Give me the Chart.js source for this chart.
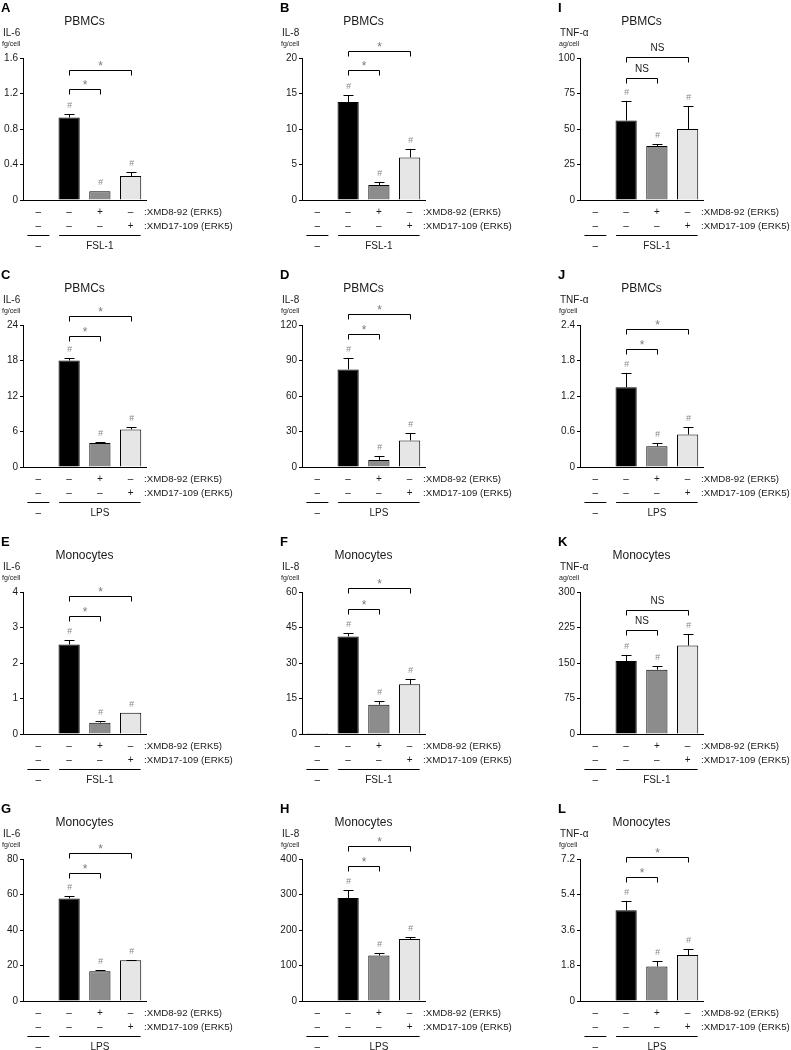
<!DOCTYPE html>
<html>
<head>
<meta charset="utf-8">
<script src="https://cdn.jsdelivr.net/npm/chart.js@4.4.1/dist/chart.umd.min.js"></script>
<style>
  html, body { margin: 0; padding: 0; background: #fff; overflow: hidden; }
  #figure { position: relative; width: 791px; height: 1050px; overflow: hidden; }
  #figure canvas { position: absolute; }
</style>
</head>
<body>
<div id="figure"></div>
<script>
// x categories (one bar each) and the treatment rows under the axis
var categories = ['Control', 'Stimulus', 'Stimulus + XMD8-92', 'Stimulus + XMD17-109'];
var xmd892Signs = ['–', '–', '+', '–'];
var xmd17109Signs = ['–', '–', '–', '+'];
var xmd892Label = ':XMD8-92 (ERK5)';
var xmd17109Label = ':XMD17-109 (ERK5)';

// panels, row by row
var panelLetters = ['A', 'B', 'I', 'C', 'D', 'J', 'E', 'F', 'K', 'G', 'H', 'L'];
var panelCells = ['PBMCs', 'PBMCs', 'PBMCs', 'PBMCs', 'PBMCs', 'PBMCs',
    'Monocytes', 'Monocytes', 'Monocytes', 'Monocytes', 'Monocytes', 'Monocytes'];
var panelCytokines = ['IL-6', 'IL-8', 'TNF-α', 'IL-6', 'IL-8', 'TNF-α',
    'IL-6', 'IL-8', 'TNF-α', 'IL-6', 'IL-8', 'TNF-α'];
var panelUnits = ['fg/cell', 'fg/cell', 'ag/cell', 'fg/cell', 'fg/cell', 'fg/cell',
    'fg/cell', 'fg/cell', 'ag/cell', 'fg/cell', 'fg/cell', 'fg/cell'];
var panelStimuli = ['FSL-1', 'FSL-1', 'FSL-1', 'LPS', 'LPS', 'LPS',
    'FSL-1', 'FSL-1', 'FSL-1', 'LPS', 'LPS', 'LPS'];

var yTickLabels = [
    ['0', '0.4', '0.8', '1.2', '1.6'],
    ['0', '5', '10', '15', '20'],
    ['0', '25', '50', '75', '100'],
    ['0', '6', '12', '18', '24'],
    ['0', '30', '60', '90', '120'],
    ['0', '0.6', '1.2', '1.8', '2.4'],
    ['0', '1', '2', '3', '4'],
    ['0', '15', '30', '45', '60'],
    ['0', '75', '150', '225', '300'],
    ['0', '20', '40', '60', '80'],
    ['0', '100', '200', '300', '400'],
    ['0', '1.8', '3.6', '5.4', '7.2']
];

var barMeans = [
    [0, 0.93, 0.10, 0.27],
    [0, 13.8, 2.1, 6.0],
    [0, 56, 38, 50],
    [0, 18.0, 4.05, 6.35],
    [0, 82.5, 6, 22.5],
    [0, 1.35, 0.35, 0.55],
    [0, 2.52, 0.32, 0.6],
    [0.4, 41.2, 12.4, 21.0],
    [0, 154, 136, 187],
    [0, 57.8, 16.8, 22.9],
    [0, 290, 128, 175],
    [0, 4.6, 1.75, 2.33]
];

var barErrors = [
    [0, 0.04, 0, 0.05],
    [0, 1.0, 0.5, 1.2],
    [0, 14, 1.5, 16],
    [0, 0.35, 0.2, 0.4],
    [0, 9.5, 3.5, 6.5],
    [0, 0.24, 0.05, 0.13],
    [0, 0.13, 0.05, 0],
    [0, 1.6, 1.5, 2.4],
    [0, 12, 8, 25],
    [0, 1.5, 0.5, 0.4],
    [0, 24, 8, 6],
    [0, 0.47, 0.27, 0.31]
];

// [stim vs XMD8-92, stim vs XMD17-109] bracket heights, in axis units
var bracketLevels = [
    [1.25, 1.46], [18.3, 21.0], [86, 101],
    [22.2, 25.6], [112, 129], [2.0, 2.33],
    [3.31, 3.88], [53, 61.5], [220, 261],
    [72, 83.6], [380, 437], [6.31, 7.32]
];
var bracketMarks = [
    ['*', '*'], ['*', '*'], ['NS', 'NS'],
    ['*', '*'], ['*', '*'], ['*', '*'],
    ['*', '*'], ['*', '*'], ['NS', 'NS'],
    ['*', '*'], ['*', '*'], ['*', '*']
];

var barColors = ['#ffffff', '#000000', '#8c8c8c', '#e6e6e6'];

// layout of the grid of panels
var colLefts = [0, 279, 557];
var colWidths = [270, 261, 234];
var rowTops = [0, 267, 534, 801];
var panelHeight = 262;
var axisWidth = 23;
var plotWidth = 123;

var FONT = "'Liberation Sans', Arial, sans-serif";
var TEXT = '#1a1a1a';

function hline(ctx, x1, x2, y) {
    ctx.beginPath();
    ctx.moveTo(x1, y);
    ctx.lineTo(x2, y);
    ctx.stroke();
}

/**
 * Draws headers, error bars, significance brackets and the treatment table
 */
var decorPlugin = {
    id: 'decor',
    afterDraw: function (chart) {
        var p = chart.options.plugins.decor.panel;
        var ctx = chart.ctx;
        var area = chart.chartArea;
        var xs = chart.scales.x;
        var ys = chart.scales.y;
        var xAt = function (i) { return xs.getPixelForValue(i); };
        var yAt = function (v) { return ys.getPixelForValue(v); };

        ctx.save();
        ctx.strokeStyle = '#000';
        ctx.lineWidth = 1;

        // headers
        ctx.fillStyle = '#000';
        ctx.textBaseline = 'alphabetic';
        ctx.textAlign = 'left';
        ctx.font = 'bold 13px ' + FONT;
        ctx.fillText(panelLetters[p], area.left - 22, area.top - 46);
        ctx.fillStyle = TEXT;
        ctx.textAlign = 'center';
        ctx.font = '12px ' + FONT;
        ctx.fillText(panelCells[p], (area.left + area.right) / 2, area.top - 33);
        ctx.textAlign = 'left';
        ctx.font = '10px ' + FONT;
        ctx.fillText(panelCytokines[p], area.left - 20, area.top - 22);
        ctx.font = '7px ' + FONT;
        ctx.fillText(panelUnits[p], area.left - 21, area.top - 12);

        // error bars and # marks
        for (var i = 1; i < categories.length; i++) {
            var x = Math.round(xAt(i)) + 0.5;
            var top = yAt(barMeans[p][i]);
            var cap = Math.round(yAt(barMeans[p][i] + barErrors[p][i])) + 0.5;
            if (barErrors[p][i] > 0) {
                ctx.beginPath();
                ctx.moveTo(x, top);
                ctx.lineTo(x, cap);
                ctx.stroke();
                hline(ctx, x - 5, x + 5, cap);
            }
            ctx.fillStyle = '#8a8a8a';
            ctx.textAlign = 'center';
            ctx.textBaseline = 'middle';
            ctx.font = 'italic 9px ' + FONT;
            ctx.fillText('#', x, cap - 9);
        }

        // significance brackets
        for (var k = 0; k < 2; k++) {
            var x1 = Math.round(xAt(1)) + 0.5;
            var x2 = Math.round(xAt(k + 2)) + 0.5;
            var yb = Math.round(yAt(bracketLevels[p][k])) + 0.5;
            ctx.beginPath();
            ctx.moveTo(x1, yb + 5);
            ctx.lineTo(x1, yb);
            ctx.lineTo(x2, yb);
            ctx.lineTo(x2, yb + 5);
            ctx.stroke();
            ctx.textAlign = 'center';
            ctx.textBaseline = 'middle';
            if (bracketMarks[p][k] === '*') {
                ctx.fillStyle = '#7a7a7a';
                ctx.font = '12px ' + FONT;
                ctx.fillText('*', (x1 + x2) / 2, yb - 4);
            } else {
                ctx.fillStyle = TEXT;
                ctx.font = '10px ' + FONT;
                ctx.fillText(bracketMarks[p][k], (x1 + x2) / 2, yb - 9);
            }
        }

        // treatment table under the axis
        var b = area.bottom;
        ctx.fillStyle = TEXT;
        ctx.font = '10px ' + FONT;
        ctx.textBaseline = 'middle';
        ctx.textAlign = 'center';
        for (var j = 0; j < categories.length; j++) {
            ctx.fillText(xmd892Signs[j], xAt(j), b + 12);
            ctx.fillText(xmd17109Signs[j], xAt(j), b + 26);
        }
        ctx.textAlign = 'left';
        ctx.font = '9.7px ' + FONT;
        ctx.fillText(xmd892Label, area.right - 2, b + 12);
        ctx.fillText(xmd17109Label, area.right - 2, b + 26);

        var ly = Math.round(b + 35) + 0.5;
        hline(ctx, xAt(0) - 11, xAt(0) + 11, ly);
        hline(ctx, xAt(1) - 10, xAt(3) + 10, ly);
        ctx.textAlign = 'center';
        ctx.font = '10px ' + FONT;
        ctx.fillText('–', xAt(0), b + 46);
        ctx.fillText(panelStimuli[p], xAt(2), b + 46);

        ctx.restore();
    }
};

function createPanel(p) {
    var row = Math.floor(p / 3);
    var col = p % 3;
    var canvas = document.createElement('canvas');
    canvas.width = colWidths[col];
    canvas.height = panelHeight;
    canvas.style.left = colLefts[col] + 'px';
    canvas.style.top = rowTops[row] + 'px';
    document.getElementById('figure').appendChild(canvas);

    var tickValues = yTickLabels[p].map(Number);

    return new Chart(canvas.getContext('2d'), {
        type: 'bar',
        data: {
            labels: categories,
            datasets: [{
                data: barMeans[p],
                backgroundColor: barColors,
                borderColor: '#000',
                borderWidth: 1,
                barPercentage: 0.69,
                categoryPercentage: 1
            }]
        },
        options: {
            responsive: false,
            animation: false,
            devicePixelRatio: 1,
            layout: {
                padding: { top: 58, left: 0, bottom: 0, right: colWidths[col] - axisWidth - plotWidth }
            },
            plugins: {
                legend: { display: false },
                tooltip: { enabled: false },
                decor: { panel: p }
            },
            scales: {
                x: {
                    grid: { display: false },
                    ticks: { display: false },
                    border: { display: true, color: '#000', width: 1 },
                    afterFit: function (s) { s.height = panelHeight - 200; }
                },
                y: {
                    min: 0,
                    max: tickValues[tickValues.length - 1],
                    afterBuildTicks: function (s) {
                        s.ticks = tickValues.map(function (v) { return { value: v }; });
                    },
                    ticks: {
                        callback: function (v, i) { return yTickLabels[p][i]; },
                        font: { family: FONT, size: 10 },
                        color: TEXT,
                        padding: 2
                    },
                    grid: { drawOnChartArea: false, drawTicks: true, tickLength: 3, color: '#000' },
                    border: { display: true, color: '#000', width: 1 },
                    afterFit: function (s) { s.width = axisWidth; }
                }
            }
        },
        plugins: [decorPlugin]
    });
}

for (var p = 0; p < panelLetters.length; p++) {
    createPanel(p);
}
</script>
</body>
</html>
